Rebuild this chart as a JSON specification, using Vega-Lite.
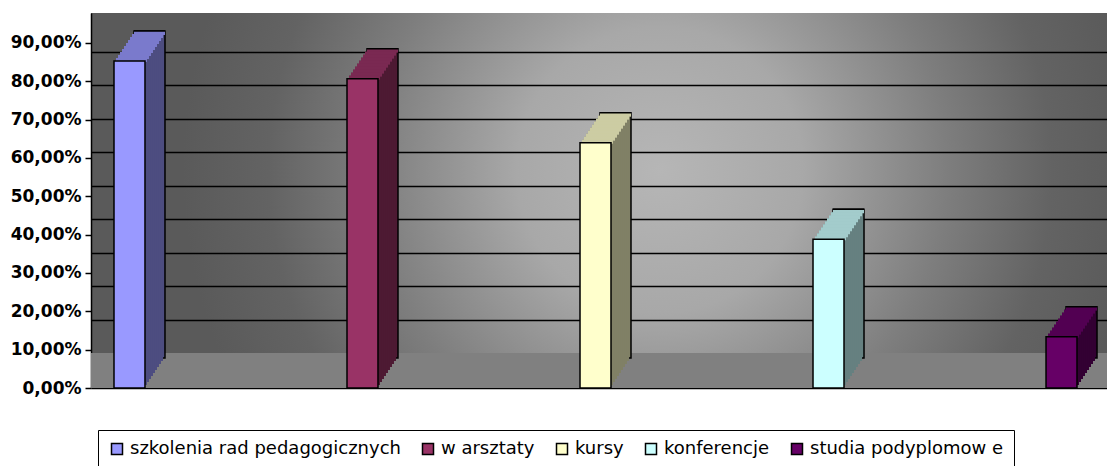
{
  "$schema": "https://vega.github.io/schema/vega-lite/v6.json",
  "width": 1016,
  "height": 375,
  "autosize": "none",
  "padding": {"left": 91, "top": 13, "right": 0, "bottom": 78},
  "background": "white",
  "config": {
    "view": {
      "stroke": null,
      "fill": {
        "gradient": "radial",
        "x1": 0.56, "y1": 0.47, "r1": 0,
        "x2": 0.56, "y2": 0.47, "r2": 0.47,
        "stops": [
          {"offset": 0, "color": "#b6b6b6"},
          {"offset": 0.3, "color": "#a8a8a8"},
          {"offset": 0.6, "color": "#7e7e7e"},
          {"offset": 0.82, "color": "#636363"},
          {"offset": 1, "color": "#5a5a5a"}
        ]
      }
    }
  },
  "data": {
    "values": [
      {"cat": "szkolenia rad pedagogicznych", "v": 0.853},
      {"cat": "w arsztaty", "v": 0.807},
      {"cat": "kursy", "v": 0.64},
      {"cat": "konferencje", "v": 0.388},
      {"cat": "studia podyplomow e", "v": 0.134}
    ]
  },
  "layer": [
    {
      "data": {"values": [{}]},
      "mark": {"type": "rect", "fill": "#808080"},
      "encoding": {
        "y": {
          "datum": 0,
          "type": "quantitative",
          "scale": {"domain": [-0.1045, 1.0156], "nice": false, "zero": false},
          "axis": {
            "orient": "right",
            "values": [0.1, 0.2, 0.3, 0.4, 0.5, 0.6, 0.7, 0.8, 0.9],
            "grid": true,
            "gridColor": "black",
            "gridWidth": 1.6,
            "gridOpacity": 1,
            "labels": false,
            "ticks": false,
            "domain": false,
            "title": null
          }
        },
        "y2": {"datum": -0.1045}
      }
    },
    {
      "encoding": {
        "x": {
          "field": "cat",
          "type": "nominal",
          "sort": null,
          "scale": {"paddingInner": 0.867, "paddingOuter": 0.1137, "align": 0.434},
          "axis": {"labels": false, "ticks": false, "domainColor": "black", "domainWidth": 1.5, "title": null, "grid": false}
        },
        "y": {
          "field": "v",
          "type": "quantitative",
          "scale": {"domain": [0, 0.97826], "nice": false},
          "axis": {
            "orient": "left",
            "values": [0, 0.1, 0.2, 0.3, 0.4, 0.5, 0.6, 0.7, 0.8, 0.9],
            "labelExpr": "replace(format(datum.value, '.2%'), '.', ',')",
            "labelFont": "DejaVu Sans",
            "labelFontWeight": "bold",
            "labelFontSize": 17,
            "labelColor": "black",
            "tickColor": "black",
            "tickSize": 6,
            "tickWidth": 1.5,
            "labelPadding": 4,
            "domainColor": "black",
            "domainWidth": 1.5,
            "grid": false,
            "title": null
          }
        }
      },
      "layer": [
        {
          "encoding": {
            "fill": {
              "field": "cat", "type": "nominal", "sort": null, "legend": null,
              "scale": {
                "domain": ["szkolenia rad pedagogicznych", "w arsztaty", "kursy", "konferencje", "studia podyplomow e"],
                "range": ["#4d4d80", "#4d1a33", "#808066", "#668080", "#330033"]
              }
            }
          },
          "layer": [
            {"mark": {"type": "bar", "xOffset": 20, "yOffset": -30, "y2Offset": -30, "stroke": "black", "strokeWidth": 1.5}},
            {"mark": {"type": "bar", "xOffset": 18, "yOffset": -27, "y2Offset": -27}},
            {"mark": {"type": "bar", "xOffset": 16, "yOffset": -24, "y2Offset": -24}},
            {"mark": {"type": "bar", "xOffset": 14, "yOffset": -21, "y2Offset": -21}},
            {"mark": {"type": "bar", "xOffset": 12, "yOffset": -18, "y2Offset": -18}},
            {"mark": {"type": "bar", "xOffset": 10, "yOffset": -15, "y2Offset": -15}},
            {"mark": {"type": "bar", "xOffset": 8, "yOffset": -12, "y2Offset": -12}},
            {"mark": {"type": "bar", "xOffset": 6, "yOffset": -9, "y2Offset": -9}},
            {"mark": {"type": "bar", "xOffset": 4, "yOffset": -6, "y2Offset": -6}},
            {"mark": {"type": "bar", "xOffset": 2, "yOffset": -3, "y2Offset": -3}}
          ]
        },
        {
          "encoding": {
            "y2": {"field": "v"},
            "fill": {
              "field": "cat", "type": "nominal", "sort": null, "legend": null,
              "scale": {
                "domain": ["szkolenia rad pedagogicznych", "w arsztaty", "kursy", "konferencje", "studia podyplomow e"],
                "range": ["#7a7acc", "#7a2952", "#cccca3", "#a3cccc", "#520052"]
              }
            }
          },
          "layer": [
            {"mark": {"type": "bar", "xOffset": 20, "yOffset": -30, "y2Offset": -26}},
            {"mark": {"type": "bar", "xOffset": 18, "yOffset": -27, "y2Offset": -23}},
            {"mark": {"type": "bar", "xOffset": 16, "yOffset": -24, "y2Offset": -20}},
            {"mark": {"type": "bar", "xOffset": 14, "yOffset": -21, "y2Offset": -17}},
            {"mark": {"type": "bar", "xOffset": 12, "yOffset": -18, "y2Offset": -14}},
            {"mark": {"type": "bar", "xOffset": 10, "yOffset": -15, "y2Offset": -11}},
            {"mark": {"type": "bar", "xOffset": 8, "yOffset": -12, "y2Offset": -8}},
            {"mark": {"type": "bar", "xOffset": 6, "yOffset": -9, "y2Offset": -5}},
            {"mark": {"type": "bar", "xOffset": 4, "yOffset": -6, "y2Offset": -2}},
            {"mark": {"type": "bar", "xOffset": 2, "yOffset": -3, "y2Offset": 1}},
            {"mark": {"type": "bar", "xOffset": 20, "yOffset": -30, "y2Offset": -30, "fillOpacity": 0, "stroke": "black", "strokeWidth": 1.5}}
          ]
        },
        {
          "mark": {"type": "bar", "stroke": "black", "strokeWidth": 1.5},
          "encoding": {
            "color": {
              "field": "cat", "type": "nominal", "sort": null,
              "scale": {
                "domain": ["szkolenia rad pedagogicznych", "w arsztaty", "kursy", "konferencje", "studia podyplomow e"],
                "range": ["#9999ff", "#993366", "#ffffcc", "#ccffff", "#660066"]
              },
              "legend": {
                "orient": "none",
                "legendX": 7,
                "legendY": 417,
                "direction": "horizontal",
                "title": null,
                "strokeColor": "black",
                "fillColor": "white",
                "padding": 10,
                "symbolType": "square",
                "symbolSize": 121,
                "symbolStrokeColor": "black",
                "symbolStrokeWidth": 1.5,
                "symbolOpacity": 1,
                "labelFont": "DejaVu Sans",
                "labelFontSize": 18,
                "labelColor": "black",
                "labelOffset": 4,
                "columnPadding": 18,
                "labelLimit": 600
              }
            }
          }
        }
      ],
      "resolve": {"scale": {"fill": "independent"}}
    }
  ],
  "resolve": {"scale": {"y": "independent"}}
}
